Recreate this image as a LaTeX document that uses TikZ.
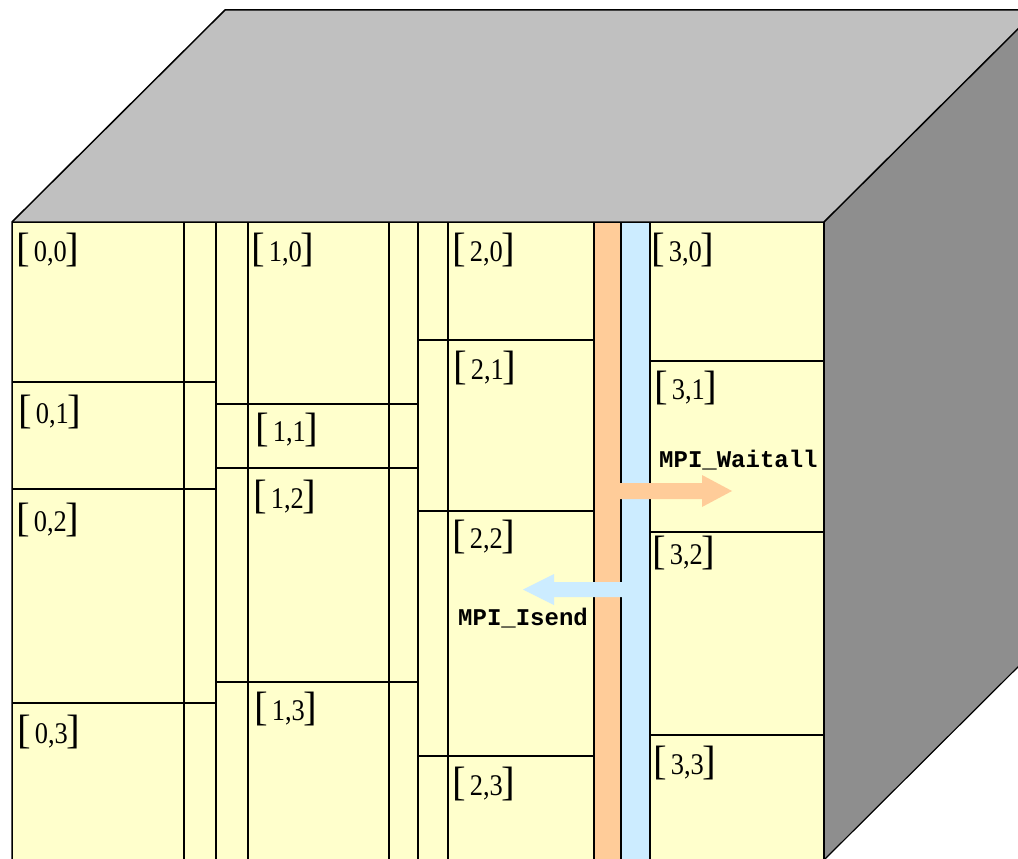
\documentclass[tikz,border=0pt]{standalone}
\usepackage{fontspec}
\setmainfont{Liberation Serif}
\setmonofont{Liberation Mono}
\definecolor{cellyellow}{HTML}{FFFFCC}
\definecolor{bandorange}{HTML}{FFCC99}
\definecolor{bandblue}{HTML}{CCECFF}
\definecolor{topgray}{HTML}{C0C0C0}
\definecolor{sidegray}{HTML}{8E8E8E}
% block index label: large brackets around narrow digits
\newcommand\blockidx[2]{{\fontsize{41}{41}\selectfont[}\hspace{4pt}\scalebox{0.88}[1]{\fontsize{30}{30}\selectfont #1,#2}\hspace{-1.5pt}{\fontsize{41}{41}\selectfont]}}
\tikzset{
  edge/.style={line width=1.3pt, black},
  idx/.style={anchor=base west, inner sep=0pt, text=black},
  call/.style={anchor=base west, inner sep=0pt, font=\fontsize{24}{24}\selectfont\ttfamily\bfseries},
}
\begin{document}
\begin{tikzpicture}[x=1pt,y=-1pt]
\useasboundingbox (0,0) rectangle (1018,859);
\clip (0,0) rectangle (1018,859);

% cube faces
\fill[topgray] (12,222) -- (225,10) -- (1037,10) -- (824,222) -- cycle;
\fill[sidegray] (824,222) -- (1037,10) -- (1037,648) -- (824,860) -- cycle;
\fill[cellyellow] (12,222) rectangle (824,862);

% halo bands
\fill[bandorange] (594,222) rectangle (621,862);
\fill[bandblue] (621,222) rectangle (650,862);

% vertical block boundaries
\foreach \x in {184,216,248,389,418,448,594,621,650}
  \draw[edge] (\x,222) -- (\x,862);

% horizontal block boundaries, one set per process column
\foreach \y in {382,489,703} \draw[edge] (12,\y) -- (216,\y);
\foreach \y in {404,468,682} \draw[edge] (216,\y) -- (418,\y);
\foreach \y in {340,511,756} \draw[edge] (418,\y) -- (594,\y);
\foreach \y in {361,532,735} \draw[edge] (650,\y) -- (824,\y);

% communication arrows
\fill[bandorange] (597,483) -- (702,483) -- (702,475) -- (732,491) -- (702,507) -- (702,499) -- (597,499) -- cycle;
\fill[bandblue] (647,582) -- (554,582) -- (554,574) -- (523,589.5) -- (554,605) -- (554,597) -- (647,597) -- cycle;

% cube outline
\draw[line width=1.5pt, line join=round] (12,862) -- (12,222) -- (225,10) -- (1037,10);
\draw[line width=1.5pt, line join=round] (12,222) -- (824,222) -- (1037,10);
\draw[line width=1.5pt] (824,222) -- (824,862);
\draw[line width=1.2pt] (824,860) -- (1037,648);

% block labels
\node[idx] (b00) at (16,261) {\blockidx{0}{0}};
\node[idx] (b01) at (18,423) {\blockidx{0}{1}};
\node[idx] (b02) at (16,531) {\blockidx{0}{2}};
\node[idx] (b03) at (17,743) {\blockidx{0}{3}};
\node[idx] (b10) at (251,261) {\blockidx{1}{0}};
\node[idx] (b11) at (255,441) {\blockidx{1}{1}};
\node[idx] (b12) at (253,508) {\blockidx{1}{2}};
\node[idx] (b13) at (254,720) {\blockidx{1}{3}};
\node[idx] (b20) at (452,261) {\blockidx{2}{0}};
\node[idx] (b21) at (453,379) {\blockidx{2}{1}};
\node[idx] (b22) at (452,548) {\blockidx{2}{2}};
\node[idx] (b23) at (452,795) {\blockidx{2}{3}};
\node[idx] (b30) at (651,261) {\blockidx{3}{0}};
\node[idx] (b31) at (654,399) {\blockidx{3}{1}};
\node[idx] (b32) at (652,564) {\blockidx{3}{2}};
\node[idx] (b33) at (653,774) {\blockidx{3}{3}};

% MPI calls
\node[call] (wait) at (659,467) {MPI\_Waitall};
\node[call] (isend) at (458,625) {MPI\_Isend};
\end{tikzpicture}
\end{document}
